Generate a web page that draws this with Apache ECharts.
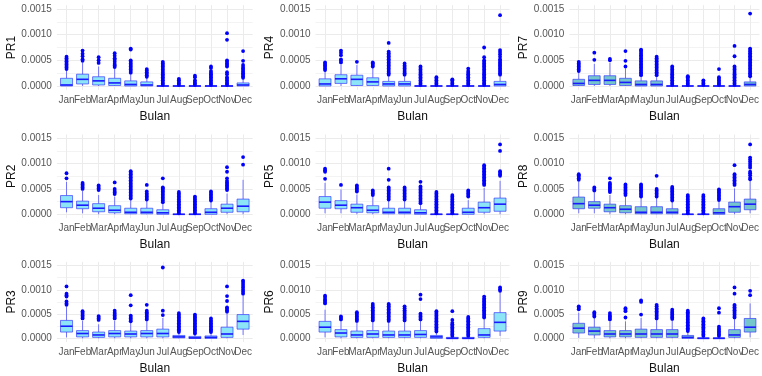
<!DOCTYPE html>
<html><head><meta charset="utf-8">
<script src="https://cdn.jsdelivr.net/npm/echarts@6/dist/echarts.min.js"></script>
<style>html,body{margin:0;padding:0;background:#fff}#c{width:762px;height:376px}</style>
</head><body><div id="c"></div>
<script>
const months = ['Jan','Feb','Mar','Apr','May','Jun','Jul','Aug','Sep','Oct','Nov','Dec'];
const yTicks = [0, 0.0005, 0.001, 0.0015];
const yMinorTicks = [0.00025, 0.00075, 0.00125];
const xLabel = 'Bulan';
const panelNames = ['PR1','PR4','PR7','PR2','PR5','PR8','PR3','PR6','PR9'];

// box stats per month: [lower whisker, q1, median, q3, upper whisker]
const pr1Stats = [[0,0,2e-5,15e-5,30e-5],[0,4e-5,13e-5,23e-5,45e-5],[0,2e-5,10e-5,18e-5,38e-5],[0,1e-5,6e-5,15e-5,34e-5],[0,0,3e-5,10e-5,24e-5],[0,0,2e-5,8e-5,16e-5],[0,0,0,0,0],[0,0,0,0,0],[0,0,0,0,0],[0,0,0,0,0],[0,0,0,0,0],[0,0,2e-5,6e-5,14e-5]];
const pr1Out = [[33e-5,36e-5,39e-5,42e-5,45e-5,48e-5,51e-5,54e-5,57e-5],[49e-5,52e-5,58e-5,63e-5,69e-5],[45e-5,50e-5,56e-5],[37e-5,40e-5,43e-5,47e-5,51e-5,54e-5,59e-5,64e-5],[26e-5,29e-5,32e-5,35e-5,38e-5,41e-5,44e-5,47e-5,50e-5,71e-5,73e-5],[18e-5,21e-5,24e-5,27e-5,30e-5,33e-5],[2e-5,5e-5,8e-5,11e-5,14e-5,17e-5,20e-5,23e-5,26e-5,29e-5,32e-5,35e-5,38e-5,41e-5,44e-5,47e-5],[2e-5,5e-5,8e-5,11e-5,14e-5],[2e-5,5e-5,8e-5,11e-5,17e-5,20e-5],[2e-5,5e-5,8e-5,11e-5,14e-5,17e-5,20e-5,23e-5,26e-5,29e-5,35e-5,38e-5],[2e-5,5e-5,8e-5,11e-5,14e-5,17e-5,23e-5,27e-5,38e-5,41e-5,44e-5,47e-5,50e-5,90e-5,103e-5],[16e-5,19e-5,22e-5,25e-5,28e-5,31e-5,34e-5,37e-5,41e-5,49e-5,68e-5]];

const pr4Stats = [[0,0,4e-5,14e-5,29e-5],[0,5e-5,14e-5,22e-5,42e-5],[0,1e-5,13e-5,21e-5,41e-5],[0,1e-5,8e-5,16e-5,35e-5],[0,0,4e-5,9e-5,20e-5],[0,0,4e-5,9e-5,20e-5],[0,0,0,0,0],[0,0,0,0,0],[0,0,0,0,0],[0,0,0,0,0],[0,0,0,0,0],[0,0,3e-5,9e-5,20e-5]];
const pr4Out = [[31e-5,34e-5,37e-5,40e-5,43e-5,46e-5],[46e-5,49e-5,52e-5,60e-5,65e-5,69e-5],[47e-5],[38e-5,41e-5,44e-5,46e-5],[22e-5,25e-5,28e-5,31e-5,34e-5,37e-5,40e-5,43e-5,46e-5,49e-5,52e-5,55e-5,58e-5,61e-5,64e-5,67e-5,84e-5],[22e-5,25e-5,28e-5,31e-5,34e-5,37e-5,40e-5,44e-5],[2e-5,5e-5,8e-5,11e-5,14e-5,17e-5,20e-5,23e-5,26e-5,29e-5,32e-5,35e-5,38e-5],[2e-5,5e-5,8e-5,11e-5,14e-5,17e-5],[2e-5,5e-5,8e-5,11e-5,13e-5],[2e-5,5e-5,8e-5,11e-5,14e-5,17e-5,20e-5,23e-5,26e-5,29e-5,34e-5],[2e-5,5e-5,8e-5,11e-5,14e-5,17e-5,20e-5,23e-5,26e-5,29e-5,32e-5,35e-5,38e-5,41e-5,44e-5,47e-5,50e-5,56e-5,75e-5],[22e-5,25e-5,28e-5,31e-5,34e-5,37e-5,40e-5,43e-5,46e-5,49e-5,52e-5,57e-5,62e-5,66e-5,70e-5,138e-5]];

const pr7Stats = [[0,1e-5,5e-5,13e-5,27e-5],[0,3e-5,11e-5,20e-5,43e-5],[0,3e-5,11e-5,20e-5,45e-5],[0,1e-5,7e-5,15e-5,34e-5],[0,0,3e-5,10e-5,18e-5],[0,0,3e-5,10e-5,19e-5],[0,0,0,0,0],[0,0,0,0,0],[0,0,0,0,0],[0,0,0,0,0],[0,0,0,0,0],[0,0,3e-5,8e-5,17e-5]];
const pr7Out = [[29e-5,32e-5,35e-5,38e-5,41e-5,44e-5,47e-5],[51e-5,65e-5],[50e-5,53e-5],[38e-5,49e-5,68e-5],[21e-5,24e-5,27e-5,30e-5,33e-5,36e-5,39e-5,42e-5,45e-5,48e-5,51e-5,54e-5,57e-5,60e-5,63e-5,66e-5,69e-5,71e-5],[21e-5,24e-5,27e-5,30e-5,33e-5,36e-5,39e-5,42e-5,45e-5,48e-5,51e-5,54e-5,57e-5],[2e-5,5e-5,8e-5,11e-5,14e-5,17e-5,20e-5,23e-5,26e-5,29e-5,32e-5,35e-5,38e-5],[2e-5,5e-5,8e-5,11e-5,14e-5,17e-5,19e-5],[2e-5,5e-5,8e-5,11e-5],[2e-5,5e-5,8e-5,11e-5,14e-5,17e-5,33e-5],[2e-5,5e-5,8e-5,11e-5,14e-5,17e-5,20e-5,23e-5,26e-5,29e-5,32e-5,35e-5,38e-5,58e-5,78e-5],[19e-5,22e-5,25e-5,28e-5,31e-5,34e-5,37e-5,40e-5,43e-5,46e-5,49e-5,52e-5,55e-5,58e-5,61e-5,64e-5,67e-5,70e-5,73e-5,141e-5]];

const pr2Stats = [[4e-5,13e-5,25e-5,37e-5,64e-5],[2e-5,11e-5,18e-5,26e-5,46e-5],[0,5e-5,12e-5,21e-5,38e-5],[0,3e-5,8e-5,17e-5,35e-5],[0,1e-5,4e-5,12e-5,28e-5],[0,1e-5,4e-5,12e-5,27e-5],[0,0,3e-5,9e-5,22e-5],[0,0,0,0,0],[0,0,0,0,0],[0,0,4e-5,11e-5,25e-5],[0,4e-5,12e-5,20e-5,41e-5],[0,5e-5,16e-5,30e-5,68e-5]];
const pr2Out = [[71e-5,81e-5],[50e-5,53e-5,56e-5,59e-5,62e-5],[48e-5,51e-5,54e-5,57e-5],[40e-5,43e-5,46e-5,50e-5,63e-5],[31e-5,34e-5,37e-5,40e-5,43e-5,46e-5,49e-5,52e-5,55e-5,58e-5,61e-5,64e-5,67e-5,70e-5,73e-5,76e-5,79e-5,82e-5,85e-5],[29e-5,32e-5,35e-5,38e-5,41e-5,45e-5,58e-5],[24e-5,27e-5,30e-5,33e-5,36e-5,39e-5,42e-5,45e-5,48e-5,51e-5,53e-5,71e-5],[2e-5,5e-5,8e-5,11e-5,14e-5,17e-5,20e-5,23e-5,26e-5,29e-5,32e-5,35e-5,38e-5,41e-5,44e-5],[2e-5,5e-5,8e-5,11e-5,14e-5,17e-5,20e-5,23e-5,26e-5,29e-5,32e-5,35e-5],[27e-5,30e-5,33e-5,36e-5,39e-5,42e-5,45e-5],[48e-5,51e-5,54e-5,57e-5,60e-5,63e-5,66e-5,71e-5,84e-5,93e-5],[98e-5,113e-5]];

const pr5Stats = [[2e-5,12e-5,24e-5,35e-5,62e-5],[2e-5,11e-5,18e-5,27e-5,49e-5],[0,4e-5,13e-5,20e-5,39e-5],[0,3e-5,8e-5,17e-5,35e-5],[0,1e-5,4e-5,12e-5,27e-5],[0,1e-5,4e-5,12e-5,27e-5],[0,0,3e-5,9e-5,20e-5],[0,0,0,0,0],[0,0,0,0,0],[0,0,4e-5,12e-5,28e-5],[0,4e-5,13e-5,24e-5,52e-5],[0,6e-5,20e-5,32e-5,66e-5]];
const pr5Out = [[70e-5,84e-5,87e-5,90e-5],[58e-5],[45e-5,48e-5,51e-5,54e-5,57e-5],[38e-5,41e-5,44e-5,47e-5],[29e-5,32e-5,35e-5,38e-5,41e-5,44e-5,47e-5,50e-5,53e-5,68e-5,90e-5],[29e-5,32e-5,35e-5,38e-5,41e-5,44e-5,47e-5,50e-5,53e-5],[22e-5,25e-5,28e-5,31e-5,34e-5,37e-5,40e-5,43e-5,46e-5,49e-5,52e-5,55e-5,64e-5],[2e-5,5e-5,8e-5,11e-5,14e-5,17e-5,20e-5,23e-5,26e-5,29e-5,32e-5,35e-5,38e-5,41e-5,44e-5],[2e-5,5e-5,8e-5,11e-5,14e-5,17e-5,20e-5,23e-5,26e-5,29e-5,32e-5,35e-5,38e-5],[35e-5,38e-5,41e-5,44e-5,47e-5],[58e-5,61e-5,64e-5,67e-5,70e-5,73e-5,76e-5,79e-5,82e-5,85e-5,88e-5,91e-5,94e-5,97e-5],[76e-5,79e-5,82e-5,85e-5,125e-5,138e-5]];

const pr8Stats = [[2e-5,11e-5,21e-5,34e-5,64e-5],[2e-5,12e-5,18e-5,25e-5,43e-5],[0,5e-5,13e-5,20e-5,38e-5],[0,3e-5,10e-5,17e-5,35e-5],[0,1e-5,4e-5,15e-5,33e-5],[0,1e-5,4e-5,15e-5,33e-5],[0,1e-5,4e-5,11e-5,25e-5],[0,0,0,0,0],[0,0,0,0,0],[0,0,3e-5,11e-5,25e-5],[0,4e-5,15e-5,24e-5,51e-5],[2e-5,9e-5,20e-5,30e-5,66e-5]];
const pr8Out = [[68e-5,71e-5,74e-5,77e-5,79e-5],[47e-5,50e-5,53e-5],[44e-5,47e-5,50e-5,53e-5,56e-5,59e-5,62e-5,71e-5],[38e-5,41e-5,44e-5,47e-5,50e-5,53e-5,56e-5,59e-5],[35e-5,38e-5,41e-5,44e-5,47e-5,50e-5,53e-5,56e-5,59e-5],[35e-5,38e-5,41e-5,44e-5,47e-5,50e-5,76e-5],[27e-5,30e-5,33e-5,36e-5,39e-5,42e-5,45e-5,48e-5,51e-5,54e-5],[2e-5,5e-5,8e-5,11e-5,14e-5,17e-5,20e-5,23e-5,26e-5,29e-5,32e-5,35e-5,38e-5],[2e-5,5e-5,8e-5,11e-5,14e-5,17e-5,20e-5,23e-5,26e-5,29e-5,32e-5,35e-5,38e-5],[28e-5,31e-5,34e-5,37e-5,40e-5,43e-5,46e-5,49e-5],[58e-5,61e-5,64e-5,67e-5,70e-5,73e-5,76e-5,79e-5,97e-5],[69e-5,72e-5,77e-5,81e-5,84e-5,92e-5,96e-5,100e-5,104e-5,108e-5,112e-5,138e-5]];

const pr3Stats = [[2e-5,13e-5,25e-5,37e-5,65e-5],[0,3e-5,10e-5,16e-5,36e-5],[0,2e-5,7e-5,13e-5,29e-5],[0,3e-5,10e-5,16e-5,36e-5],[0,3e-5,9e-5,15e-5,33e-5],[0,3e-5,10e-5,16e-5,36e-5],[0,3e-5,10e-5,19e-5,42e-5],[0,1e-5,3e-5,6e-5,12e-5],[0,0,1e-5,4e-5,9e-5],[0,0,2e-5,5e-5,11e-5],[0,2e-5,9e-5,23e-5,52e-5],[7e-5,19e-5,35e-5,49e-5,89e-5]];
const pr3Out = [[69e-5,72e-5,76e-5,86e-5,89e-5,92e-5,107e-5],[41e-5,44e-5,47e-5,50e-5,53e-5,56e-5],[38e-5,41e-5,44e-5,46e-5],[41e-5,44e-5,47e-5,50e-5,53e-5,57e-5],[35e-5,38e-5,41e-5,44e-5,47e-5,68e-5,89e-5],[39e-5,42e-5,45e-5,48e-5,51e-5,54e-5,57e-5,69e-5],[48e-5,57e-5,146e-5],[13e-5,16e-5,19e-5,22e-5,25e-5,28e-5,31e-5,34e-5,37e-5,40e-5,43e-5,46e-5,49e-5,52e-5],[10e-5,13e-5,16e-5,19e-5,22e-5,25e-5,28e-5,31e-5,34e-5,37e-5,40e-5,43e-5,46e-5,49e-5],[13e-5,16e-5,19e-5,22e-5,25e-5,28e-5,31e-5,34e-5,37e-5,41e-5],[55e-5,58e-5,61e-5,64e-5,77e-5,87e-5,107e-5],[92e-5,96e-5,100e-5,104e-5,108e-5,112e-5,116e-5,119e-5]];

const pr6Stats = [[2e-5,13e-5,23e-5,35e-5,59e-5],[0,3e-5,11e-5,18e-5,38e-5],[0,2e-5,7e-5,15e-5,34e-5],[0,2e-5,9e-5,16e-5,35e-5],[0,2e-5,7e-5,15e-5,34e-5],[0,2e-5,7e-5,15e-5,34e-5],[0,2e-5,8e-5,16e-5,36e-5],[0,0,3e-5,6e-5,12e-5],[0,0,0,2e-5,4e-5],[0,0,0,2e-5,4e-5],[0,2e-5,7e-5,20e-5,39e-5],[5e-5,15e-5,33e-5,53e-5,95e-5]];
const pr6Out = [[72e-5,75e-5,78e-5,81e-5,85e-5,88e-5],[39e-5,42e-5,45e-5],[36e-5,39e-5,42e-5,45e-5,48e-5,51e-5,54e-5],[37e-5,40e-5,43e-5,46e-5,49e-5,52e-5,55e-5,58e-5,61e-5,64e-5,67e-5,71e-5],[36e-5,39e-5,42e-5,45e-5,48e-5,51e-5,54e-5,57e-5,60e-5,63e-5,66e-5,69e-5,71e-5],[37e-5,40e-5,43e-5,46e-5,49e-5,52e-5,55e-5,58e-5,62e-5,66e-5],[39e-5,42e-5,45e-5,48e-5,51e-5,81e-5,90e-5],[14e-5,17e-5,20e-5,23e-5,26e-5,29e-5,32e-5,35e-5,38e-5,41e-5,44e-5,47e-5,50e-5,53e-5,56e-5],[5e-5,8e-5,11e-5,14e-5,17e-5,20e-5,23e-5,26e-5,29e-5,32e-5,38e-5,56e-5],[5e-5,8e-5,11e-5,14e-5,17e-5,20e-5,23e-5,26e-5,29e-5,32e-5,35e-5,38e-5,41e-5,44e-5],[43e-5,46e-5,49e-5,52e-5,55e-5,58e-5,61e-5,64e-5,67e-5,70e-5,73e-5,76e-5,79e-5,82e-5,86e-5],[98e-5,101e-5,105e-5]];

const pr9Stats = [[1e-5,11e-5,21e-5,31e-5,53e-5],[0,7e-5,15e-5,23e-5,43e-5],[0,3e-5,9e-5,16e-5,35e-5],[0,3e-5,9e-5,16e-5,35e-5],[0,2e-5,9e-5,19e-5,42e-5],[0,2e-5,9e-5,18e-5,39e-5],[0,2e-5,9e-5,18e-5,38e-5],[0,0,2e-5,6e-5,13e-5],[0,0,0,1e-5,3e-5],[0,0,0,1e-5,3e-5],[0,2e-5,7e-5,18e-5,39e-5],[2e-5,13e-5,23e-5,41e-5,72e-5]];
const pr9Out = [[60e-5,63e-5,66e-5],[45e-5,48e-5,51e-5,54e-5],[39e-5,42e-5,45e-5,48e-5,52e-5],[43e-5,56e-5,59e-5,62e-5],[49e-5,75e-5,78e-5],[41e-5,44e-5,47e-5,50e-5,53e-5,56e-5,59e-5,62e-5,66e-5,69e-5],[40e-5,43e-5,46e-5,49e-5,52e-5,55e-5,59e-5],[15e-5,18e-5,21e-5,24e-5,27e-5,30e-5,33e-5,36e-5,39e-5,42e-5,45e-5,48e-5,51e-5,54e-5,57e-5],[5e-5,8e-5,11e-5,14e-5,17e-5,20e-5,23e-5,26e-5,29e-5,32e-5,35e-5,38e-5,41e-5],[5e-5,8e-5,11e-5,14e-5,17e-5,20e-5,24e-5,53e-5,62e-5],[43e-5,46e-5,49e-5,52e-5,55e-5,58e-5,61e-5,64e-5,67e-5,69e-5,92e-5,105e-5],[89e-5,98e-5]];

const panelStats = [pr1Stats, pr4Stats, pr7Stats, pr2Stats, pr5Stats, pr8Stats, pr3Stats, pr6Stats, pr9Stats];
const panelOut = [pr1Out, pr4Out, pr7Out, pr2Out, pr5Out, pr8Out, pr3Out, pr6Out, pr9Out];

// layout (pixels)
const colLeft = [56.9, 315.5, 569.4];
const colWidth = [195.8, 194.1, 195.8];
const rowTop = [5.15, 134.5, 261.9];
const rowHeight = [84.7, 83.6, 83.6];
const fills = ['#8ce4f7', '#8ce4f7', '#74c6cc'];
const FONT = 'Liberation Sans, Arial, sans-serif';
const Y_MIN = -0.000075, Y_MAX = 0.001575;

const chart = echarts.init(document.getElementById('c'), null, {renderer: 'canvas'});
const grids = [], xAxes = [], yAxes = [], series = [];

function makeRender(fill) {
  return function (params, api) {
    const x = api.value(0);
    const lo = api.coord([x, api.value(1)]);
    const q1 = api.coord([x, api.value(2)]);
    const md = api.coord([x, api.value(3)]);
    const q3 = api.coord([x, api.value(4)]);
    const hi = api.coord([x, api.value(5)]);
    const hw = api.size([0.75, 0])[0] / 2;
    const cx = lo[0];
    const lineStyle = {stroke: 'rgba(40,40,255,0.62)', lineWidth: 1};
    return {type: 'group', children: [
      {type: 'line', shape: {x1: cx, y1: q3[1], x2: cx, y2: hi[1]}, style: lineStyle},
      {type: 'line', shape: {x1: cx, y1: lo[1], x2: cx, y2: q1[1]}, style: lineStyle},
      {type: 'rect', shape: {x: cx - hw, y: q3[1], width: 2 * hw, height: Math.max(q1[1] - q3[1], 0.01)},
       style: {fill: fill, stroke: 'rgba(40,40,255,0.62)', lineWidth: 1}},
      {type: 'line', shape: {x1: cx - hw, y1: md[1], x2: cx + hw, y2: md[1]}, style: {stroke: '#1a1aff', lineWidth: 1.6}}
    ]};
  };
}

// month label indices split in two interleaved sets so that no labels are auto-hidden
const evenIdx = months.map((m, i) => i).filter(i => i % 2 === 0);
const oddIdx = months.map((m, i) => i).filter(i => i % 2 === 1);
const labelBase = {formatter: v => months[Math.round(v)], showMinLabel: true, showMaxLabel: true,
  fontFamily: FONT, fontSize: 10, color: '#555', margin: 5};

panelNames.forEach((name, p) => {
  const r = Math.floor(p / 3), c = p % 3;
  grids.push({left: colLeft[c], top: rowTop[r], width: colWidth[c], height: rowHeight[r], containLabel: false});
  xAxes.push({
    type: 'value', gridIndex: p, min: -0.6, max: 11.6, position: 'bottom',
    name: xLabel, nameLocation: 'middle', nameGap: 21,
    nameTextStyle: {fontFamily: FONT, fontSize: 12, color: '#111'},
    axisLine: {show: false},
    axisTick: {show: false, customValues: months.map((m, i) => i)},
    axisLabel: Object.assign({customValues: evenIdx}, labelBase),
    splitLine: {show: true, lineStyle: {color: '#ebebeb', width: 1}}
  });
  xAxes.push({
    type: 'value', gridIndex: p, min: -0.6, max: 11.6, position: 'bottom', offset: 0,
    axisLine: {show: false},
    axisTick: {show: false, customValues: oddIdx},
    axisLabel: Object.assign({customValues: oddIdx}, labelBase),
    splitLine: {show: false}
  });
  yAxes.push({
    type: 'value', gridIndex: p, min: Y_MIN, max: Y_MAX, position: 'left',
    name: name, nameLocation: 'middle', nameGap: 36, nameRotate: 90,
    nameTextStyle: {fontFamily: FONT, fontSize: 12, color: '#111'},
    axisLine: {show: false},
    axisTick: {show: false, customValues: yTicks},
    axisLabel: {customValues: yTicks, formatter: v => v.toFixed(4), showMinLabel: true, showMaxLabel: true,
      fontFamily: FONT, fontSize: 10, color: '#555', margin: 5},
    splitLine: {show: true, lineStyle: {color: '#ebebeb', width: 1}}
  });
  yAxes.push({
    type: 'value', gridIndex: p, min: Y_MIN, max: Y_MAX, position: 'left',
    axisLine: {show: false},
    axisTick: {show: false, customValues: yMinorTicks},
    axisLabel: {show: false},
    splitLine: {show: true, lineStyle: {color: '#f3f3f3', width: 1}}
  });
  const boxData = panelStats[p].map((s, i) => [i, s[0], s[1], s[2], s[3], s[4]]);
  series.push({
    type: 'custom', xAxisIndex: 2 * p, yAxisIndex: 2 * p, data: boxData,
    renderItem: makeRender(fills[c]), encode: {x: 0, y: [1, 2, 3, 4, 5]}, silent: true, z: 2
  });
  const pts = [];
  panelOut[p].forEach((arr, i) => arr.forEach(v => pts.push([i, v])));
  series.push({
    type: 'scatter', xAxisIndex: 2 * p, yAxisIndex: 2 * p, data: pts, symbolSize: 3.8,
    itemStyle: {color: '#0000ff', opacity: 1}, silent: true, z: 3, clip: false
  });
});

chart.setOption({
  animation: false,
  backgroundColor: '#ffffff',
  grid: grids, xAxis: xAxes, yAxis: yAxes, series: series
});
</script></body></html>
